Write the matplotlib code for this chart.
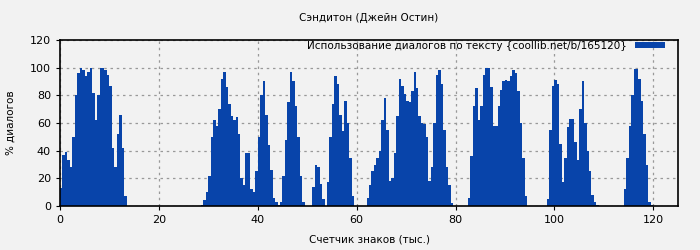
import numpy as np
import matplotlib
matplotlib.use("Agg")
import matplotlib.pyplot as plt

# share of dialogue per 0.5k-character bin
step = 0.5
dialog_pct = [
    13, 37, 39, 33, 28, 50, 80, 96, 99.5, 98,
    94, 97, 100, 82, 62, 80, 100, 100, 98, 95,
    87, 42, 28, 52, 66, 42, 7, 0, 0, 0,
    0, 0, 0, 0, 0, 0, 0, 0, 0, 0,
    0, 0, 0, 0, 0, 0, 0, 0, 0, 0,
    0, 0, 0, 0, 0, 0, 0, 1, 4, 10,
    22, 50, 62, 58, 70, 92, 97, 86, 74, 65,
    62.5, 64.5, 52, 20, 15, 38, 38, 12, 10, 25,
    50, 80, 90, 66, 44, 26, 6, 3, 0.5, 3,
    22, 48, 75, 97, 90, 72, 50, 22, 3, 0,
    0, 0, 14, 30, 28, 16, 5, 0, 17, 50,
    74, 94, 88, 66, 54, 76, 60, 35, 7, 0,
    0, 0, 0, 0, 6, 15, 25, 30, 35, 40,
    62, 78, 55, 18, 20, 38, 65, 92, 87, 81,
    76, 75, 83, 97, 85, 65, 60, 59, 50, 18,
    28, 60, 95, 98.5, 88, 55, 28, 15, 2, 0,
    0, 0, 0, 0, 0, 6, 36, 72, 85, 62,
    72, 95, 100, 100, 86, 58, 58, 72, 84, 90,
    91, 90, 94, 98, 96, 83, 60, 35, 7, 0,
    0, 0, 0, 0, 0, 0, 0, 5, 55, 87,
    91, 88, 45, 17, 35, 57, 63, 63, 46, 33,
    70, 90, 60, 40, 25, 8, 3, 1, 0, 0,
    0, 0, 0, 0, 0, 0, 0, 0, 12, 35,
    58, 80, 99, 99, 92, 76, 52, 30, 3, 1,
]
x = np.arange(len(dialog_pct)) * step

title = "Сэндитон (Джейн Остин)"
legend_label = "Использование диалогов по тексту {coollib.net/b/165120}"
bg = "#f2f2f2"
blue = "#0844aa"

plt.rcParams["font.family"] = ["DejaVu Sans"]
fig = plt.figure(figsize=(7, 2.5), dpi=100, facecolor=bg)
ax = fig.add_axes([0.0857, 0.176, 0.8829, 0.664], facecolor=bg)

ax.bar(x, dialog_pct, width=step, align="edge", color=blue, linewidth=0,
       label=legend_label, zorder=2)

ax.set_xlim(0, 125)
ax.set_ylim(0, 120)
ax.set_xticks(range(0, 121, 20))
ax.set_yticks(range(0, 121, 20))
ax.tick_params(labelsize=8, length=3, width=0.8, direction="out")
ax.grid(True, color="#999999", linestyle=(0, (2, 3)), linewidth=0.9, zorder=1)
for s in ax.spines.values():
    s.set_linewidth(1.2)

ax.set_title(title, fontsize=7.5, pad=14)
ax.set_xlabel("Счетчик знаков (тыс.)", fontsize=7.5, labelpad=7)
ax.set_ylabel("% диалогов", fontsize=7.5, labelpad=10)

ax.legend(loc="upper right", bbox_to_anchor=(0.985, 1.02), frameon=False,
          markerfirst=False, fontsize=7.5, handlelength=2.8, handleheight=0.6,
          borderaxespad=0, handletextpad=0.8)

fig.savefig("out.png", dpi=100, facecolor=bg)
